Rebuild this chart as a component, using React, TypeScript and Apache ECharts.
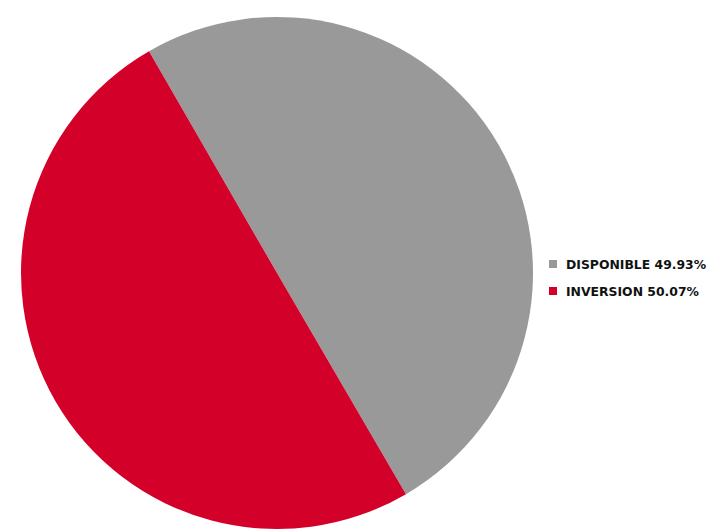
import React, { useEffect, useRef } from "react";
import * as echarts from "echarts";

const categories = ["DISPONIBLE", "INVERSION"];
const values = [49.93, 50.07];
const colors = ["#999999", "#D3002A"];

export default function App() {
  const ref = useRef<HTMLDivElement>(null);
  useEffect(() => {
    if (!ref.current) return;
    const chart = echarts.init(ref.current, null, { renderer: "svg" });
    const total = values.reduce((a, b) => a + b, 0);
    chart.setOption({
      animation: false,
      color: colors,
      legend: {
        orient: "vertical",
        left: 549,
        top: 258,
        padding: 0,
        itemWidth: 8,
        itemHeight: 8,
        itemGap: 15,
        icon: "rect",
        data: categories,
        formatter: (name: string) => {
          const i = categories.indexOf(name);
          return `${name} ${((values[i] / total) * 100).toFixed(2)}%`;
        },
        textStyle: {
          fontFamily: "DejaVu Sans",
          fontWeight: "bold",
          fontSize: 12.4,
          color: "#111111",
          padding: [0, 0, 0, 4],
        },
      },
      series: [
        {
          type: "pie",
          center: [277, 273],
          radius: 256,
          startAngle: 120,
          clockwise: true,
          label: { show: false },
          labelLine: { show: false },
          emphasis: { disabled: true },
          itemStyle: { borderWidth: 0 },
          data: categories.map((c, i) => ({ name: c, value: values[i] })),
        },
      ],
    });
    return () => chart.dispose();
  }, []);
  return (
    <div
      ref={ref}
      style={{ position: "fixed", left: 0, top: 0, width: 714, height: 529, background: "#ffffff" }}
    />
  );
}
